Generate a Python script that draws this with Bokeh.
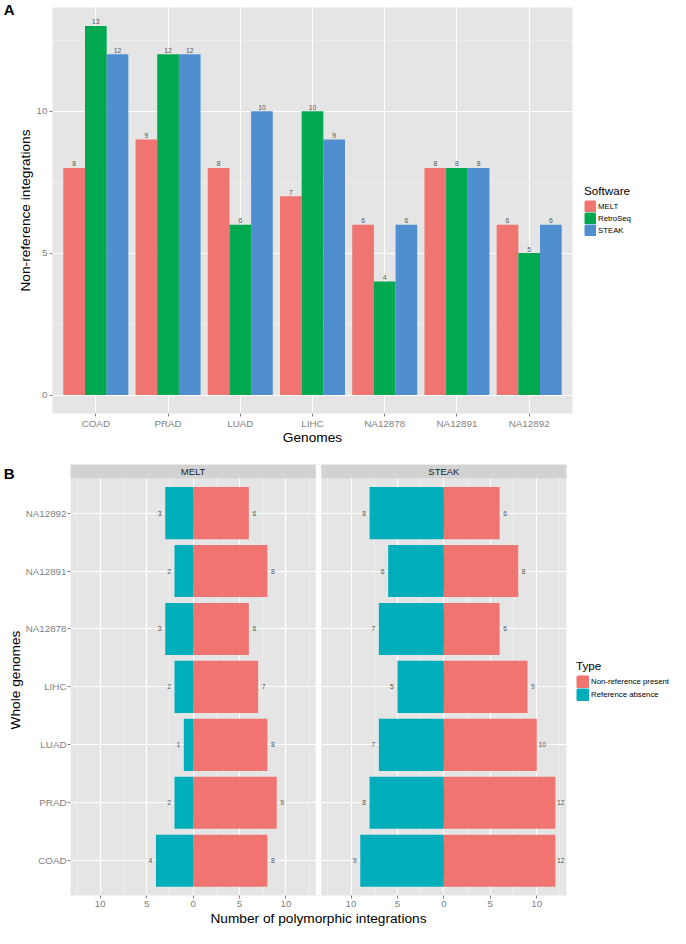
from bokeh.plotting import figure
from bokeh.models import (ColumnDataSource, FixedTicker, Legend, LegendItem,
                          LabelSet, Range1d, LinearAxis)
from bokeh.layouts import column
from bokeh.transform import dodge
from bokeh.embed import file_html
from bokeh.resources import INLINE
from bokeh.core.properties import value

FONT = "Liberation Sans"

# ---------------- data ----------------
genomes = ["COAD", "PRAD", "LUAD", "LIHC", "NA12878", "NA12891", "NA12892"]
software = ["MELT", "RetroSeq", "STEAK"]
melt_counts = [8, 9, 8, 7, 6, 8, 6]
retroseq_counts = [13, 12, 6, 10, 4, 8, 5]
steak_counts = [12, 12, 10, 9, 6, 8, 6]
yticks_a = [0, 5, 10]

facets = ["MELT", "STEAK"]
types = ["Non-reference present", "Reference absence"]
melt_nonref = [8, 9, 8, 7, 6, 8, 6]
melt_refabs = [4, 2, 1, 2, 3, 2, 3]
steak_nonref = [12, 12, 10, 9, 6, 8, 6]
steak_refabs = [9, 8, 7, 5, 7, 6, 8]
xticks_b = [-10, -5, 0, 5, 10]

sw_colors = ["#F07470", "#00A84F", "#4F8FD0"]
type_colors = ["#F07470", "#00AEBB"]


def style_axis(ax):
    ax.axis_line_color = None
    ax.major_tick_line_color = "#7F7F7F"
    ax.major_tick_out = 3
    ax.major_tick_in = 0
    ax.minor_tick_line_color = None
    ax.major_label_text_color = "#7F7F7F"
    ax.major_label_text_font = FONT
    ax.major_label_text_font_size = "9.8px"
    ax.major_label_standoff = 1
    ax.axis_label_text_font = FONT
    ax.axis_label_text_font_size = "13.7px"
    ax.axis_label_text_font_style = "normal"
    ax.axis_label_text_color = "black"
    ax.axis_label_standoff = 1


def panel_tag(tick, letter, standoff):
    ax = LinearAxis(ticker=FixedTicker(ticks=[tick]), major_label_overrides={tick: letter})
    ax.axis_line_color = None
    ax.major_tick_line_color = None
    ax.major_tick_out = 0
    ax.major_tick_in = 0
    ax.minor_tick_line_color = None
    ax.major_label_standoff = standoff
    ax.major_label_text_font = FONT
    ax.major_label_text_font_size = "15px"
    ax.major_label_text_font_style = "bold"
    ax.major_label_text_color = "black"
    return ax


def style_legend(leg, margin, key):
    leg.location = "center_left"
    leg.padding = 0
    leg.margin = margin
    leg.spacing = 0
    leg.glyph_width = key
    leg.glyph_height = key
    leg.label_height = key
    leg.label_standoff = 2
    leg.border_line_color = None
    leg.background_fill_alpha = 0
    leg.label_text_font = FONT
    leg.label_text_font_size = "7.8px"
    leg.label_text_color = "black"
    leg.title_text_font = FONT
    leg.title_text_font_size = "11.7px"
    leg.title_text_font_style = "normal"
    leg.title_text_color = "black"
    leg.title_standoff = 3


# ---------------- panel A ----------------
A_L, A_R, A_T, A_B = 44, 106, 7, 33
A_FW, A_FH = 520, 406
ya0, ya1 = -0.65, 13.65
pA = figure(frame_width=A_FW, frame_height=A_FH, x_range=Range1d(0.4, 7.6), y_range=Range1d(ya0, ya1),
            output_backend="svg", toolbar_location=None, frame_align=False,
            min_border_left=A_L, min_border_right=A_R, min_border_top=A_T, min_border_bottom=A_B)
pA.background_fill_color = "#E5E5E5"
pA.border_fill_color = "white"
pA.outline_line_color = None

xpos = list(range(1, len(genomes) + 1))
bw = 0.9 / len(software)
rendA = []
for k, (name, vals, col) in enumerate(zip(software, [melt_counts, retroseq_counts, steak_counts], sw_colors)):
    src = ColumnDataSource(dict(x=[x + (k - 1) * bw for x in xpos], top=vals,
                                lab=[str(v) for v in vals]))
    # legend key renderer, hidden underneath the real bars (gives full-size keys)
    key = pA.vbar(x="x", top=dodge("top", -0.4), bottom=0.4, width=bw * 0.5, source=src,
                  fill_color=col, line_color=col, line_width=2.4)
    pA.vbar(x="x", top="top", bottom=0, width=bw, source=src, fill_color=col, line_color=None)
    rendA.append((name, key))
    pA.add_layout(LabelSet(x="x", y="top", text="lab", source=src, text_align="center",
                           text_baseline="bottom", y_offset=1.5, text_font_size="6.8px",
                           text_color="#555555", text_font=value(FONT)))

style_axis(pA.xaxis[0])
style_axis(pA.yaxis[0])
pA.xaxis.ticker = FixedTicker(ticks=xpos)
pA.xaxis.major_label_overrides = {x: g for x, g in zip(xpos, genomes)}
pA.yaxis.ticker = FixedTicker(ticks=yticks_a, minor_ticks=[2.5, 7.5, 12.5])
pA.xaxis.axis_label = "Genomes"
pA.xaxis.axis_label_standoff = -2
pA.yaxis.axis_label = "Non-reference integrations"
pA.xgrid.ticker = FixedTicker(ticks=xpos)
pA.ygrid.ticker = FixedTicker(ticks=yticks_a, minor_ticks=[2.5, 7.5, 12.5])
for g in (pA.xgrid[0], pA.ygrid[0]):
    g.grid_line_color = "white"
    g.grid_line_width = 1.1
pA.ygrid.minor_grid_line_color = "#F2F2F2"
pA.ygrid.minor_grid_line_width = 0.6

legA = Legend(items=[LegendItem(label=value(n), renderers=[r]) for n, r in rendA], title="Software")
style_legend(legA, 12, 12)
pA.add_layout(legA, "right")
pA.add_layout(panel_tag(ya1 - 0.05, "A", 0), "left")

# ---------------- panel B ----------------
B_L, B_R, B_T, B_B = 62, 112, 17, 33
B_FW, B_FH = 496, 431
strip_px = 13.8
panel_px = B_FH - strip_px
y_end = 7.6 + strip_px * 7.2 / panel_px
half = 13.2
gap = 0.6
OFFSET = 2 * half + gap

pB = figure(frame_width=B_FW, frame_height=B_FH, x_range=Range1d(-half, OFFSET + half),
            y_range=Range1d(0.4, y_end),
            output_backend="svg", toolbar_location=None, frame_align=False,
            min_border_left=B_L, min_border_right=B_R, min_border_top=B_T, min_border_bottom=B_B)
pB.background_fill_color = "#E5E5E5"
pB.border_fill_color = "white"
pB.outline_line_color = None

ypos = list(range(1, len(genomes) + 1))
rendB = {}
for k, (fname, nonref, refabs) in enumerate(zip(facets, [melt_nonref, steak_nonref],
                                                 [melt_refabs, steak_refabs])):
    off = k * OFFSET
    src_n = ColumnDataSource(dict(y=ypos, right=[off + v for v in nonref],
                                  lab=[str(v) for v in nonref]))
    src_r = ColumnDataSource(dict(y=ypos, left=[off - v for v in refabs],
                                  lab=[str(v) for v in refabs]))
    # legend key renderers, hidden underneath the real bars
    kn = pB.hbar(y="y", height=0.45, left=off, right=dodge("right", -0.5), source=src_n,
                 fill_color=type_colors[0], line_color=type_colors[0], line_width=2.6)
    kr = pB.hbar(y="y", height=0.45, left=dodge("left", 0.5), right=off, source=src_r,
                 fill_color=type_colors[1], line_color=type_colors[1], line_width=2.6)
    rendB[types[0]] = kn
    rendB[types[1]] = kr
    pB.hbar(y="y", height=0.9, left=off, right="right", source=src_n,
            fill_color=type_colors[0], line_color=None)
    pB.hbar(y="y", height=0.9, left="left", right=off, source=src_r,
            fill_color=type_colors[1], line_color=None)
    pB.add_layout(LabelSet(x="right", y="y", text="lab", source=src_n, text_align="center",
                           text_baseline="middle", x_offset=5.5, text_font_size="6.8px",
                           text_color="#555555", text_font=value(FONT)))
    pB.add_layout(LabelSet(x="left", y="y", text="lab", source=src_r, text_align="center",
                           text_baseline="middle", x_offset=-5.5, text_font_size="6.8px",
                           text_color="#555555", text_font=value(FONT)))

# facet gap and strips
pB.quad(left=half, right=half + gap, bottom=0.4, top=y_end, fill_color="white", line_color=None)
strip_src = ColumnDataSource(dict(left=[k * OFFSET - half for k in range(len(facets))],
                                  right=[k * OFFSET + half for k in range(len(facets))],
                                  cx=[k * OFFSET for k in range(len(facets))],
                                  cy=[(7.6 + y_end) / 2] * len(facets),
                                  name=facets))
pB.quad(left="left", right="right", bottom=7.6, top=y_end, source=strip_src,
        fill_color="#D2D2D2", line_color=None)
pB.add_layout(LabelSet(x="cx", y="cy", text="name", source=strip_src, text_align="center",
                       text_baseline="middle", text_font_size="9.5px", text_color="#1A1A1A",
                       text_font=value(FONT)))

style_axis(pB.xaxis[0])
style_axis(pB.yaxis[0])
xt = [k * OFFSET + t for k in range(len(facets)) for t in xticks_b]
xm = [k * OFFSET + t for k in range(len(facets)) for t in [-12.5, -7.5, -2.5, 2.5, 7.5, 12.5]]
pB.xaxis.ticker = FixedTicker(ticks=xt, minor_ticks=xm)
pB.xaxis.major_label_overrides = {k * OFFSET + t: str(abs(t)) for k in range(len(facets)) for t in xticks_b}
pB.yaxis.ticker = FixedTicker(ticks=ypos)
pB.yaxis.major_label_overrides = {y: g for y, g in zip(ypos, genomes)}
pB.xaxis.axis_label = "Number of polymorphic integrations"
pB.yaxis.axis_label = "Whole genomes"
pB.yaxis.axis_label_standoff = 0
pB.xgrid.ticker = FixedTicker(ticks=xt, minor_ticks=xm)
pB.ygrid.ticker = FixedTicker(ticks=ypos)
for g in (pB.xgrid[0], pB.ygrid[0]):
    g.grid_line_color = "white"
    g.grid_line_width = 1.1
pB.xgrid.minor_grid_line_color = "#F2F2F2"
pB.xgrid.minor_grid_line_width = 0.6

legB = Legend(items=[LegendItem(label=value(t), renderers=[rendB[t]]) for t in types], title="Type")
style_legend(legB, 10, 13)
pB.add_layout(legB, "right")
pB.add_layout(panel_tag(y_end - 9 * 7.2 / panel_px, "B", -10), "left")

layout = column(pA, pB)
open("out.html", "w").write(file_html(layout, INLINE))
